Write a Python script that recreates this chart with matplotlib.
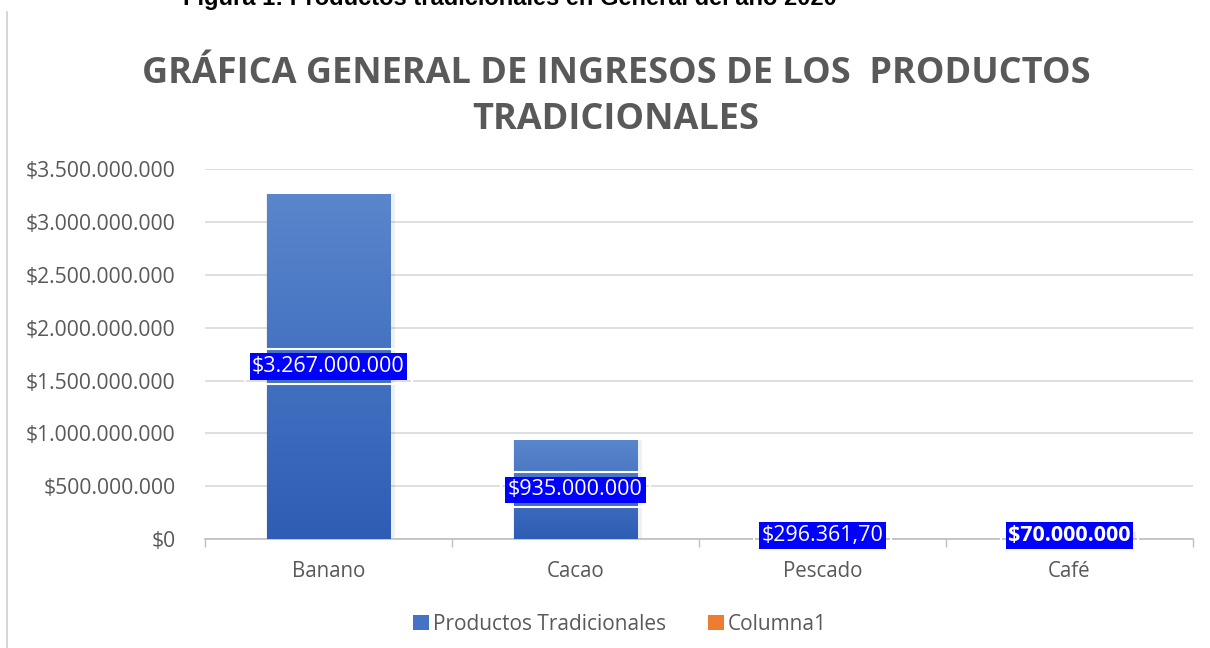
import numpy as np
import matplotlib.pyplot as plt
from matplotlib.patches import Patch
from matplotlib.colors import LinearSegmentedColormap
from matplotlib.ticker import FuncFormatter

# ── datos ──────────────────────────────────────────────────────────────
categorias = ['Banano', 'Cacao', 'Pescado', 'Café']
ingresos   = [3267000000, 935000000, 296361.70, 70000000]
etiquetas  = ['$3.267.000.000', '$935.000.000', '$296.361,70', '$70.000.000']
negrita    = [False, False, False, True]
series     = ['Productos Tradicionales', 'Columna1']

GRIS   = '#595959'
AZUL   = '#4472C4'
NARANJA = '#ED7D31'
FUENTE = 'Open Sans'

def fmt_peso(v, _pos):
    return '$' + f'{int(v):,}'.replace(',', '.')

fig = plt.figure(figsize=(12.1, 6.48), dpi=100)
ax = fig.add_axes([0.1694, 0.168, 0.8166, 0.571])

x = np.arange(len(categorias))
ancho = 0.5
grad = LinearSegmentedColormap.from_list('g', ['#2E5DB5', '#5A86CC'])
g = np.linspace(0, 1, 256).reshape(-1, 1)

# sombra + barra con degradado
ax.bar(x + 0.008, ingresos, ancho + 0.025, color='#000000', alpha=0.06, zorder=2)
barras = ax.bar(x, ingresos, ancho, color=AZUL, zorder=3)
for b in barras:
    x0, y0 = b.get_x(), b.get_y()
    w, h = b.get_width(), b.get_height()
    if h <= 0:
        continue
    im = ax.imshow(g, cmap=grad, origin='lower', aspect='auto',
                   extent=[x0, x0 + w, y0, y0 + h], zorder=3.5)
    im.set_clip_path(b)

# etiquetas de datos
for xi, v, t, bold in zip(x, ingresos, etiquetas, negrita):
    yc = max(v / 2, 3.5e7)
    ax.text(xi, yc, t, ha='center', va='center', fontsize=15.5, color='none',
            family=FUENTE, fontweight='bold' if bold else 'normal', zorder=4,
            bbox=dict(boxstyle='square,pad=0.33', facecolor='none',
                      edgecolor='white', linewidth=1.5))
    ax.text(xi, yc, t, ha='center', va='center', fontsize=15.5, color='white',
            family=FUENTE, fontweight='bold' if bold else 'normal', zorder=5,
            bbox=dict(boxstyle='square,pad=0.12', facecolor='#0000FF',
                      edgecolor='none'))

ax.set_xlim(-0.5, len(categorias) - 0.5)
ax.set_ylim(0, 3.5e9)
ax.set_yticks(np.arange(0, 3.5e9 + 1, 5e8))
ax.yaxis.set_major_formatter(FuncFormatter(fmt_peso))
ax.set_xticks(x)
ax.set_xticklabels(categorias)
ax.set_xticks(np.arange(-0.5, len(categorias)), minor=True)
ax.tick_params(axis='x', which='major', length=0, pad=16, labelsize=14.8,
               labelcolor=GRIS)
ax.tick_params(axis='x', which='minor', length=6, color='#BFBFBF', width=1)
ax.tick_params(axis='y', length=0, pad=21, labelsize=15.2, labelcolor=GRIS)
for lab in ax.get_xticklabels() + ax.get_yticklabels():
    lab.set_family(FUENTE)

ax.grid(axis='y', color='#D9D9D9', linewidth=1.2, zorder=0)
ax.set_axisbelow(True)
for s in ['top', 'right', 'left']:
    ax.spines[s].set_visible(False)
ax.spines['bottom'].set_color('#BFBFBF')
ax.spines['bottom'].set_linewidth(1.2)

# título
fig.text(616 / 1210, 1 - 97 / 648,
         'GRÁFICA GENERAL DE INGRESOS DE LOS  PRODUCTOS\nTRADICIONALES',
         ha='center', va='center', fontsize=26, fontweight='bold', color=GRIS,
         family=FUENTE, linespacing=1.4)

# leyenda
manijas = [Patch(facecolor=AZUL, edgecolor='none'),
           Patch(facecolor=NARANJA, edgecolor='none')]
leg = fig.legend(manijas, series, loc='center', bbox_to_anchor=(620 / 1210, 1 - 624 / 648),
                 ncol=2, frameon=False, handlelength=0.75, handleheight=0.75,
                 handletextpad=0.2, columnspacing=2.0,
                 prop={'family': FUENTE, 'size': 15})
for t in leg.get_texts():
    t.set_color(GRIS)

# leyenda superior recortada (como en el original) y borde
fig.text(510 / 1210, 1 - 5 / 648,
         'Figura 1: Productos tradicionales en General del año 2020',
         ha='center', va='baseline', fontsize=17, fontweight='bold',
         family='Liberation Sans', color='black')
fig.add_artist(plt.Line2D([7 / 1210, 7 / 1210], [0, 1 - 12 / 648],
                          transform=fig.transFigure, color='#D0D0D0', lw=1.2))

fig.savefig('out.png', dpi=100)
